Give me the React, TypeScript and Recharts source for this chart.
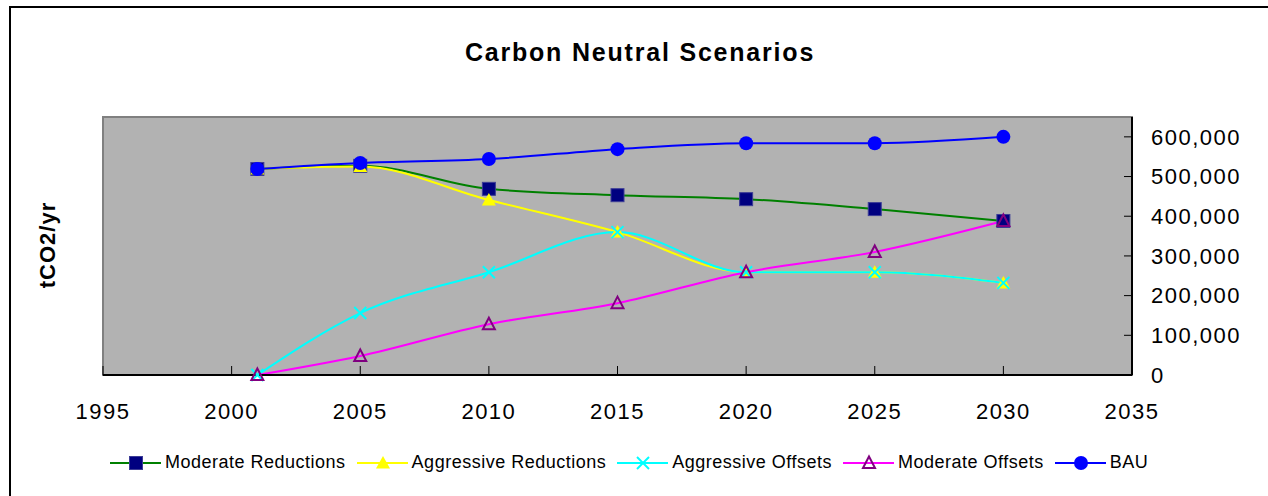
import { LineChart, Line, XAxis, YAxis, ReferenceArea, Legend } from 'recharts';

const years = [2001, 2005, 2010, 2015, 2020, 2025, 2030];
const moderateReductions = [519000, 527000, 469000, 453000, 443000, 418000, 388000];
const aggressiveReductions = [519000, 525000, 441000, 360000, 259000, 259000, 232000];
const aggressiveOffsets = [0, 156000, 259000, 360000, 259000, 259000, 232000];
const moderateOffsets = [0, 48000, 128000, 181000, 259000, 310000, 388000];
const bau = [519000, 534000, 544000, 569000, 584000, 584000, 600000];

const xTicks = [1995, 2000, 2005, 2010, 2015, 2020, 2025, 2030, 2035];
const yTicks = [0, 100000, 200000, 300000, 400000, 500000, 600000];

const data = years.map((year, i) => ({
  year,
  modRed: moderateReductions[i],
  aggRed: aggressiveReductions[i],
  aggOff: aggressiveOffsets[i],
  modOff: moderateOffsets[i],
  bau: bau[i],
}));

const FONT = '"Liberation Sans", Arial, sans-serif';

type Kind = 'square' | 'triangle' | 'cross' | 'openTriangle' | 'circle';

const series: { key: string; name: string; stroke: string; marker: Kind }[] = [
  { key: 'modRed', name: 'Moderate Reductions', stroke: '#008000', marker: 'square' },
  { key: 'aggRed', name: 'Aggressive Reductions', stroke: '#ffff00', marker: 'triangle' },
  { key: 'aggOff', name: 'Aggressive Offsets', stroke: '#00ffff', marker: 'cross' },
  { key: 'modOff', name: 'Moderate Offsets', stroke: '#ff00ff', marker: 'openTriangle' },
  { key: 'bau', name: 'BAU', stroke: '#0000ff', marker: 'circle' },
];

function Marker({ kind, cx, cy }: { kind: Kind; cx: number; cy: number }) {
  switch (kind) {
    case 'square':
      return <rect x={cx - 6.5} y={cy - 6.5} width={13} height={13} fill="#000080" stroke="#3c3c96" strokeWidth={1} />;
    case 'triangle':
      return <polygon points={`${cx},${cy - 7} ${cx + 7},${cy + 5.5} ${cx - 7},${cy + 5.5}`} fill="#ffff00" />;
    case 'cross':
      return (
        <g stroke="#00ffff" strokeWidth={2}>
          <line x1={cx - 6} y1={cy - 6} x2={cx + 6} y2={cy + 6} />
          <line x1={cx - 6} y1={cy + 6} x2={cx + 6} y2={cy - 6} />
        </g>
      );
    case 'openTriangle':
      return <polygon points={`${cx},${cy - 6.5} ${cx + 6},${cy + 5} ${cx - 6},${cy + 5}`} fill="none" stroke="#800080" strokeWidth={2} />;
    default:
      return <circle cx={cx} cy={cy} r={7} fill="#0000ff" />;
  }
}

function LegendContent() {
  return (
    <div style={{ display: 'flex', alignItems: 'center', paddingLeft: 110, fontFamily: FONT, fontSize: 18, letterSpacing: 0.5, color: '#000' }}>
      {series.map((s) => (
        <div key={s.key} style={{ display: 'flex', alignItems: 'center', marginRight: 11 }}>
          <svg width={51} height={18}>
            <line x1={0} y1={9} x2={51} y2={9} stroke={s.stroke} strokeWidth={2} />
            <Marker kind={s.marker} cx={26} cy={9} />
          </svg>
          <span style={{ marginLeft: 4 }}>{s.name}</span>
        </div>
      ))}
    </div>
  );
}

export default function App() {
  return (
    <div style={{ position: 'fixed', left: 0, top: 0, width: 1268, height: 496, background: '#fff', overflow: 'hidden' }}>
      <div style={{ position: 'absolute', left: 9, top: 6, right: -4, bottom: -4, borderLeft: '2px solid #000', borderTop: '2px solid #000' }} />
      <div
        style={{
          position: 'absolute',
          left: 640,
          top: 38,
          transform: 'translateX(-50%)',
          fontFamily: FONT,
          fontWeight: 'bold',
          fontSize: 25,
          letterSpacing: 1.8,
          whiteSpace: 'nowrap',
        }}
      >
        Carbon Neutral Scenarios
      </div>
      <div
        style={{
          position: 'absolute',
          left: 48,
          top: 245,
          transform: 'translate(-50%, -50%) rotate(-90deg)',
          fontFamily: FONT,
          fontWeight: 'bold',
          fontSize: 22,
          letterSpacing: 1,
          whiteSpace: 'nowrap',
        }}
      >
        tCO2/yr
      </div>
      <LineChart width={1268} height={496} data={data} margin={{ top: 117, right: 0, bottom: 61, left: 103 }}>
        <ReferenceArea x1={1995} x2={2035} y1={0} y2={650000} fill="#b2b2b2" fillOpacity={1} stroke="#808080" strokeWidth={2} />
        <XAxis
          dataKey="year"
          type="number"
          domain={[1995, 2035]}
          ticks={xTicks}
          height={60}
          axisLine={{ stroke: '#000', strokeWidth: 2 }}
          tickLine={{ stroke: '#000', strokeWidth: 1 }}
          tickSize={-9}
          tickMargin={37}
          tick={{ fontFamily: FONT, fontSize: 22, letterSpacing: 1.5, fill: '#000' }}
          interval={0}
        />
        <YAxis
          orientation="right"
          type="number"
          domain={[0, 650000]}
          ticks={yTicks}
          width={136}
          axisLine={{ stroke: '#000', strokeWidth: 2 }}
          tickLine={{ stroke: '#000', strokeWidth: 1 }}
          tickSize={-8}
          tickMargin={27}
          tick={{ fontFamily: FONT, fontSize: 22, letterSpacing: 1.5, fill: '#000' }}
          tickFormatter={(v: number) => v.toLocaleString('en-US')}
          interval={0}
        />
        {series.map((s) => (
          <Line
            key={s.key}
            dataKey={s.key}
            name={s.name}
            type="monotone"
            stroke={s.stroke}
            strokeWidth={2}
            isAnimationActive={false}
            dot={(p: any) => <Marker key={`${s.key}-${p.index}`} kind={s.marker} cx={p.cx} cy={p.cy} />}
            activeDot={false}
          />
        ))}
        <Legend
          layout="vertical"
          align="center"
          verticalAlign="middle"
          wrapperStyle={{ position: 'absolute', top: 452, left: 0, width: 1268 }}
          content={() => <LegendContent />}
        />
      </LineChart>
    </div>
  );
}
